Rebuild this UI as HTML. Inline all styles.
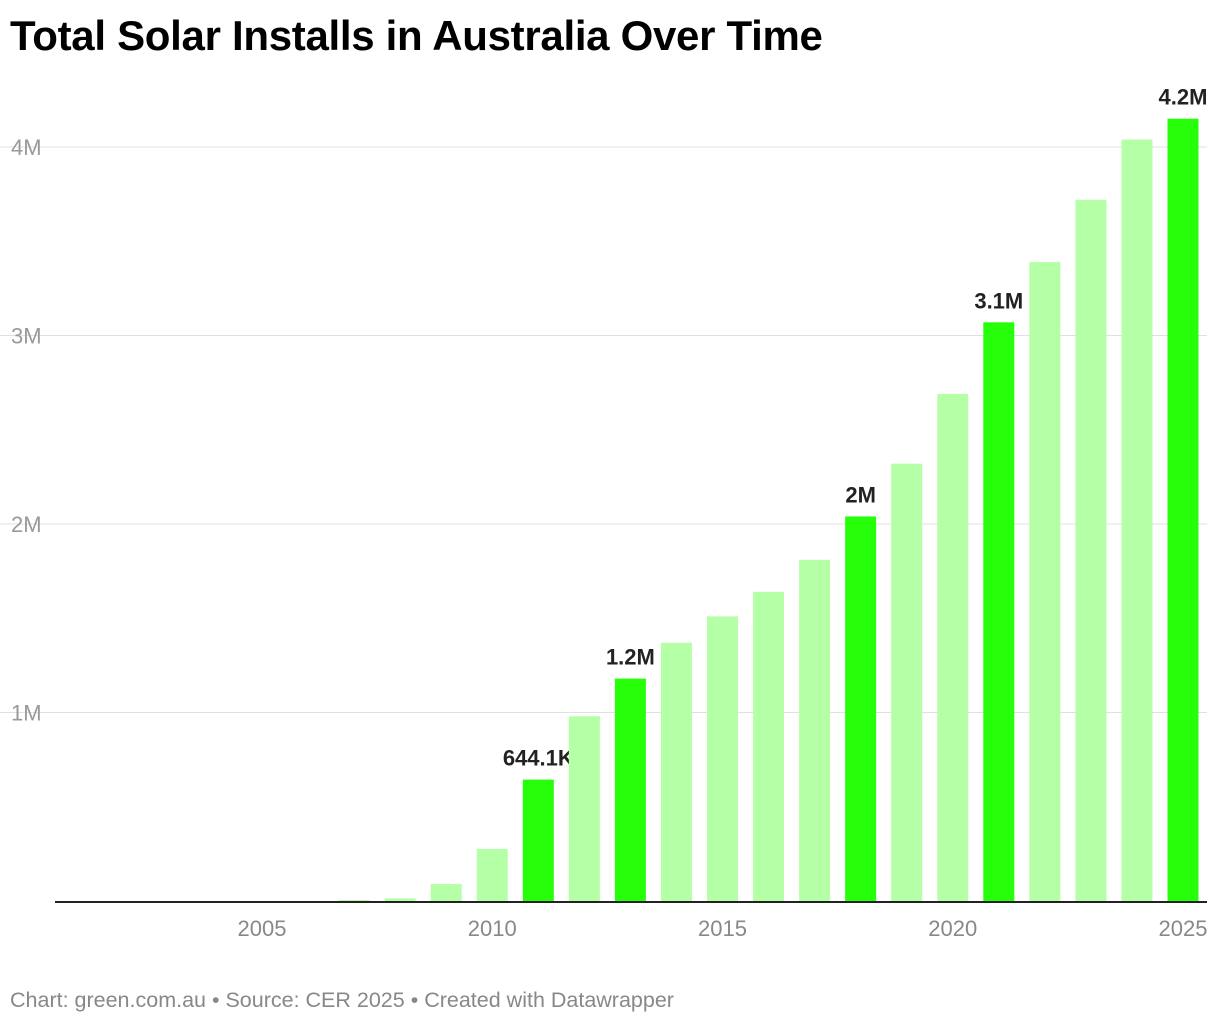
<!DOCTYPE html>
<html><head><meta charset="utf-8"><style>
body{margin:0;background:#fff;font-family:"Liberation Sans",sans-serif;}
#wrap{position:relative;width:1220px;height:1024px;}
h1{position:absolute;left:10px;top:12px;margin:0;font-size:42px;font-weight:bold;color:#000;letter-spacing:-0.3px;}
#foot{position:absolute;left:10px;top:988px;font-size:21.5px;color:#888;}
</style></head><body><div id="wrap">
<h1>Total Solar Installs in Australia Over Time</h1>
<svg id="chart" width="1220" height="1024" style="position:absolute;left:0;top:0"></svg>
<div id="foot">Chart: green.com.au • Source: CER 2025 • Created with Datawrapper</div>
</div>
<script>
const years=[2001,2002,2003,2004,2005,2006,2007,2008,2009,2010,2011,2012,2013,2014,2015,2016,2017,2018,2019,2020,2021,2022,2023,2024,2025];
const values=[0,0,0,0,0,0,0.005,0.014,0.09,0.276,0.6441,0.98,1.18,1.37,1.51,1.64,1.81,2.04,2.32,2.69,3.07,3.39,3.72,4.04,4.15];
const highlighted=[2011,2013,2018,2021,2025];
const labels=["644.1K","1.2M","2M","3.1M","4.2M"];
const yTicks=[1,2,3,4];
const xTicks=[2005,2010,2015,2020,2025];
const svg=document.getElementById('chart');
const NS='http://www.w3.org/2000/svg';
const base=901, perM=188.5;
const y=v=>base-v*perM;
const x=yr=>262+(yr-2005)*46.05;
const bw=31;
function mk(t,a){const e=document.createElementNS(NS,t);for(const k in a)e.setAttribute(k,a[k]);svg.appendChild(e);return e;}
yTicks.forEach(t=>{
 const g=mk('line',{x1:0,x2:1207,y1:y(t),y2:y(t),stroke:'#e0e0e0','stroke-width':1});
 
 
 const l=mk('text',{x:11,y:y(t)+8,'font-size':22,fill:'#999'});
 l.textContent=t+'M';
 
 
});
years.forEach((yr,i)=>{
 const v=values[i];if(v<=0)return;
 const hi=highlighted.includes(yr);
 const r=mk('rect',{x:x(yr)-bw/2,y:y(v),width:bw,height:base-y(v),fill:hi?'#27ff0a':'#b5ffa6'});
 
 
 if(hi){
  const t=mk('text',{x:x(yr),y:y(v)-14,'font-size':22,'font-weight':'bold','text-anchor':'middle',fill:'#222'});
  t.textContent=labels[highlighted.indexOf(yr)];
  
  
 }
});
const ax=mk('line',{x1:55,x2:1207,y1:base+1,y2:base+1,stroke:'#222','stroke-width':2});


xTicks.forEach(t=>{
 const l=mk('text',{x:x(t),y:936,'font-size':22,fill:'#888','text-anchor':'middle'});
 l.textContent=t;
 
 
});
</script></body></html>
